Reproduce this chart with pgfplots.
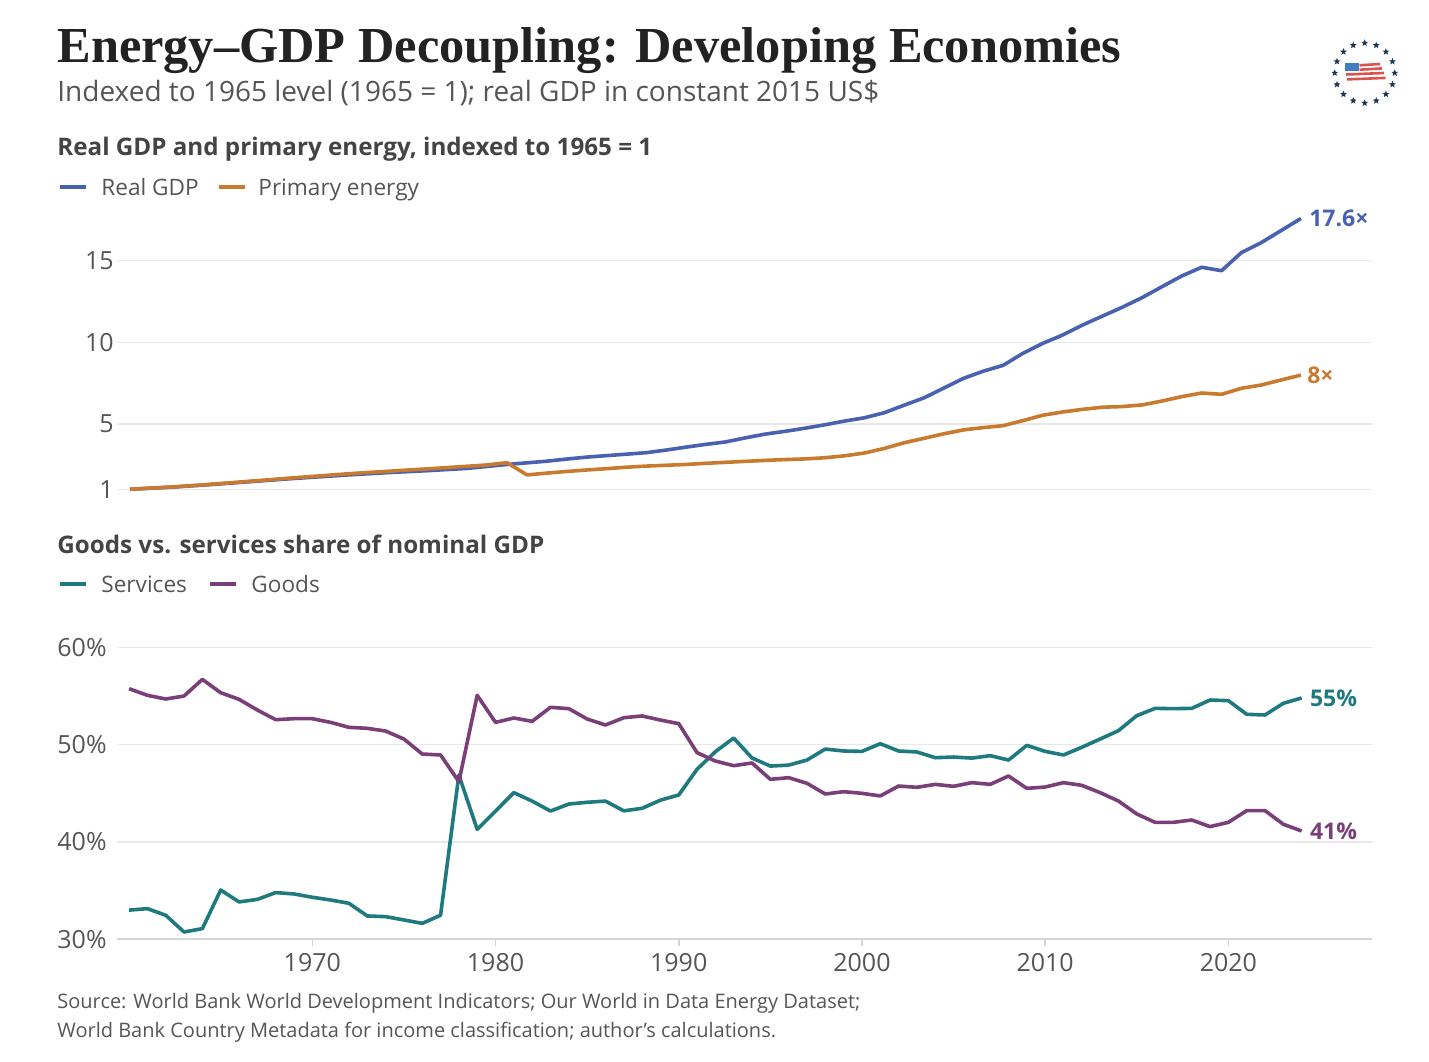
\documentclass[border=0pt]{standalone}
\usepackage{fontspec}
\setmainfont{Open Sans}
\newfontfamily\titlefont{Liberation Serif}
\usepackage{pgfplots}
\usepackage{pgfplotstable}
\pgfplotsset{compat=1.18}
\usetikzlibrary{shapes.geometric,calc}

\definecolor{gdpblue}{HTML}{4861B0}
\definecolor{energyorange}{HTML}{C87A2E}
\definecolor{servteal}{HTML}{1F7A80}
\definecolor{goodspurple}{HTML}{7A3F78}
\definecolor{titlegray}{HTML}{222222}
\definecolor{subgray}{HTML}{555555}
\definecolor{headgray}{HTML}{444444}
\definecolor{gridgray}{HTML}{E8E8E8}
\definecolor{axisgray}{HTML}{D6D6D6}
\definecolor{navy}{HTML}{1D3557}
\definecolor{flagblue}{HTML}{3F7DBF}
\definecolor{flagred}{HTML}{D9534F}

% Real GDP and primary energy, indexed to 1965 = 1
\pgfplotstableread{
year gdp energy
1965 1.00 1.00
1966 1.06 1.07
1967 1.12 1.13
1968 1.20 1.21
1969 1.28 1.30
1970 1.37 1.39
1971 1.46 1.49
1972 1.55 1.58
1973 1.64 1.68
1974 1.72 1.77
1975 1.80 1.86
1976 1.88 1.95
1977 1.95 2.03
1978 2.02 2.10
1979 2.08 2.18
1980 2.14 2.25
1981 2.21 2.33
1982 2.28 2.41
1983 2.40 2.49
1984 2.52 2.63
1985 2.62 1.88
1986 2.72 1.99
1987 2.85 2.09
1988 2.97 2.18
1989 3.06 2.26
1990 3.15 2.35
1991 3.24 2.42
1992 3.40 2.47
1993 3.58 2.52
1994 3.75 2.59
1995 3.90 2.65
1996 4.15 2.71
1997 4.38 2.77
1998 4.55 2.82
1999 4.74 2.86
2000 4.95 2.93
2001 5.18 3.05
2002 5.38 3.22
2003 5.69 3.50
2004 6.15 3.85
2005 6.60 4.12
2006 7.20 4.40
2007 7.80 4.64
2008 8.24 4.78
2009 8.60 4.90
2010 9.34 5.21
2011 9.95 5.54
2012 10.46 5.74
2013 11.07 5.90
2014 11.62 6.03
2015 12.16 6.07
2016 12.75 6.17
2017 13.42 6.41
2018 14.08 6.68
2019 14.61 6.90
2020 14.40 6.82
2021 15.51 7.19
2022 16.12 7.39
2023 16.86 7.70
2024 17.60 8.00
}\topdata

% Goods vs. services share of nominal GDP (%)
\pgfplotstableread{
year services goods
1960 33.00 55.75
1961 33.15 55.07
1962 32.47 54.69
1963 30.75 55.00
1964 31.10 56.71
1965 35.07 55.34
1966 33.84 54.66
1967 34.10 53.56
1968 34.80 52.57
1969 34.66 52.67
1970 34.32 52.67
1971 34.04 52.29
1972 33.70 51.78
1973 32.40 51.68
1974 32.33 51.40
1975 31.99 50.58
1976 31.64 49.04
1977 32.47 48.94
1978 46.88 46.20
1979 41.30 55.07
1980 43.18 52.29
1981 45.07 52.74
1982 44.20 52.40
1983 43.18 53.84
1984 43.90 53.70
1985 44.08 52.64
1986 44.20 52.02
1987 43.20 52.77
1988 43.46 52.95
1989 44.30 52.53
1990 44.83 52.16
1991 47.47 49.18
1992 49.28 48.32
1993 50.68 47.84
1994 48.63 48.12
1995 47.80 46.44
1996 47.90 46.61
1997 48.42 46.03
1998 49.55 44.93
1999 49.35 45.17
2000 49.31 45.00
2001 50.10 44.73
2002 49.35 45.75
2003 49.25 45.62
2004 48.66 45.92
2005 48.73 45.72
2006 48.62 46.10
2007 48.87 45.92
2008 48.42 46.78
2009 49.93 45.51
2010 49.31 45.65
2011 48.94 46.10
2012 49.73 45.82
2013 50.58 45.07
2014 51.44 44.21
2015 52.98 42.88
2016 53.73 42.02
2017 53.70 42.02
2018 53.73 42.26
2019 54.59 41.58
2020 54.52 42.02
2021 53.12 43.22
2022 53.05 43.22
2023 54.25 41.82
2024 54.80 41.13
}\sharedata

\newcommand{\tickfont}{\fontsize{12.5}{14}\selectfont}
\newcommand{\lastvaluefont}{\bfseries\fontsize{11.5}{13}\selectfont}
\newcommand{\legendfont}{\fontsize{11.3}{13}\selectfont}
\newcommand{\headfont}{\bfseries\fontsize{12.1}{14}\selectfont}

\begin{document}
\begin{tikzpicture}[x=0.5pt,y=-0.5pt]
\path[use as bounding box] (0,0) rectangle (1429,1061);

% Titles
\node[anchor=base west, inner sep=0pt, text=titlegray, font=\titlefont\bfseries\fontsize{25.2}{28}\selectfont] at (57,62) {Energy–GDP Decoupling: Developing Economies};
\node[anchor=base west, inner sep=0pt, text=subgray, font=\fontsize{14}{16}\selectfont] at (57,101) {Indexed to 1965 level (1965 = 1); real GDP in constant 2015 US\$};

% Upper panel heading and legend
\node[anchor=base west, inner sep=0pt, text=headgray, font=\headfont] at (57,155) {Real GDP and primary energy, indexed to 1965 = 1};
\draw[gdpblue, line width=2pt] (60,187) -- (86,187);
\node[anchor=base west, inner sep=0pt, text=subgray, font=\legendfont] at (101,195) {Real GDP};
\draw[energyorange, line width=2pt] (219,187) -- (245,187);
\node[anchor=base west, inner sep=0pt, text=subgray, font=\legendfont] at (258,195) {Primary energy};

% Lower panel heading and legend
\node[anchor=base west, inner sep=0pt, text=headgray, font=\headfont] at (57,553) {Goods vs. services share of nominal GDP};
\draw[servteal, line width=2pt] (60,584) -- (86,584);
\node[anchor=base west, inner sep=0pt, text=subgray, font=\legendfont] at (101,592) {Services};
\draw[goodspurple, line width=2pt] (210,584) -- (236,584);
\node[anchor=base west, inner sep=0pt, text=subgray, font=\legendfont] at (251,592) {Goods};

% Source note
\node[anchor=base west, inner sep=0pt, text=subgray, font=\fontsize{10}{12}\selectfont] at (57,1008) {Source: World Bank World Development Indicators; Our World in Data Energy Dataset;};
\node[anchor=base west, inner sep=0pt, text=subgray, font=\fontsize{10}{12}\selectfont] at (57,1037) {World Bank Country Metadata for income classification; author's calculations.};

% Logo: ring of stars around a waving flag
\foreach \a in {0,22.5,...,337.5}
  \node[star, star points=5, star point ratio=2.3, fill=navy, inner sep=0pt, minimum size=3.6pt] at ($(1364.7,73)+(\a:30)$) {};
\fill[flagblue] (1345,62.5) rectangle (1358.5,71);
\draw[flagred, line width=1.3pt] (1359.5,65.3) -- (1380,64);
\draw[flagred, line width=1.3pt] (1359.5,69.7) -- (1382,68.4);
\draw[flagred, line width=1.3pt] (1346,74.5) -- (1384,73);
\draw[flagred, line width=1.3pt] (1347,79.4) -- (1385.5,77.9);

% Upper panel: index levels
\begin{axis}[
  at={(58.5pt,-248.7pt)}, anchor=south west, scale only axis,
  width=627.5pt, height=146.8pt,
  xmin=1964.345, xmax=2027.58, ymin=0.5, ymax=18.5,
  axis line style={draw=none},
  xtick=\empty, ytick={1,5,10,15},
  ymajorgrids, major grid style={draw=gridgray, line width=0.6pt},
  tick style={draw=none},
  /pgf/number format/assume math mode=true,
  yticklabel style={font=\tickfont, text=subgray, anchor=east, inner sep=0pt, xshift=-1.5pt},
  clip=false,
]
\addplot[gdpblue, line width=1.8pt, line join=round] table[x=year, y=gdp] {\topdata};
\addplot[energyorange, line width=1.8pt, line join=round] table[x=year, y=energy] {\topdata};
\node[anchor=west, inner sep=0pt, xshift=4pt, text=gdpblue, font=\lastvaluefont] at (axis cs:2024,17.6) {17.6×};
\node[anchor=west, inner sep=0pt, xshift=3pt, text=energyorange, font=\lastvaluefont] at (axis cs:2024,8.0) {8×};
\end{axis}

% Lower panel: sector shares
\begin{axis}[
  at={(58.5pt,-469.65pt)}, anchor=south west, scale only axis,
  width=627.5pt, height=150.85pt,
  xmin=1959.34, xmax=2027.84, ymin=30, ymax=61,
  axis line style={draw=none},
  xtick={1970,1980,...,2020}, ytick={30,40,50,60},
  yticklabels={30\%,40\%,50\%,60\%},
  ymajorgrids, major grid style={draw=gridgray, line width=0.6pt},
  xtick style={draw=axisgray, line width=0.8pt}, ytick style={draw=none},
  tick align=outside, xtick pos=left, major tick length=3.5pt,
  /pgf/number format/assume math mode=true,
  /pgf/number format/1000 sep={},
  xticklabel style={font=\tickfont, text=subgray},
  yticklabel style={font=\tickfont, text=subgray, anchor=east, inner sep=0pt, xshift=-1.5pt},
  clip=false,
]
\draw[axisgray, line width=0.9pt] (rel axis cs:0,0) -- (rel axis cs:1,0);
\addplot[servteal, line width=1.8pt, line join=round] table[x=year, y=services] {\sharedata};
\addplot[goodspurple, line width=1.8pt, line join=round] table[x=year, y=goods] {\sharedata};
\node[anchor=west, inner sep=0pt, xshift=4pt, text=servteal, font=\lastvaluefont] at (axis cs:2024,54.8) {55\%};
\node[anchor=west, inner sep=0pt, xshift=4pt, text=goodspurple, font=\lastvaluefont] at (axis cs:2024,41.13) {41\%};
\end{axis}
\end{tikzpicture}
\end{document}
